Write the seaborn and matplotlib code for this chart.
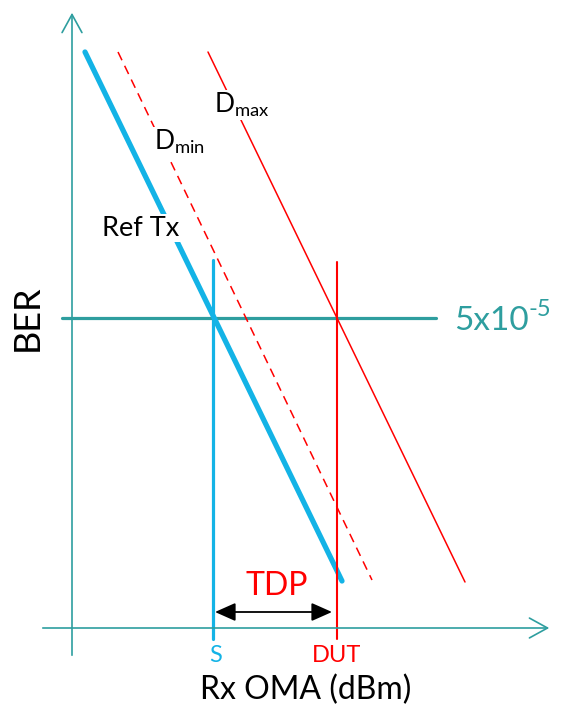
import matplotlib
matplotlib.use('Agg')
import matplotlib.pyplot as plt
import seaborn as sns

# schematic coordinates (Rx OMA to the right, BER downwards)
ref_tx_x = [85, 342]
ref_tx_y = [52, 581]
dmin_x = [118, 372]
dmin_y = [52, 580]
dmax_x = [208, 465]
dmax_y = [52, 582]

ber_level = 318            # 5x10^-5 threshold
s_x = 213                  # Ref Tx sensitivity
dut_x = 337                # DUT sensitivity
marker_top = [260, 262]    # upper end of S / DUT markers
marker_bottom = 639
axis_x = 72
axis_y = 628

teal = '#2E9E9F'
cyan = '#13B3E6'
red = '#FF0000'

sns.set_theme(style='white')
plt.rcParams['font.family'] = ['Lato', 'DejaVu Sans']
plt.rcParams['mathtext.default'] = 'regular'

fig = plt.figure(figsize=(5.63, 7.16), dpi=100)
ax = fig.add_axes([0, 0, 1, 1])
ax.set_xlim(0, 563)
ax.set_ylim(716, 0)
ax.axis('off')


def seg(x, y, **kw):
    # plain segment, no aggregation
    sns.lineplot(x=x, y=y, estimator=None, sort=False, ax=ax, **kw)


# axes with open arrow heads
ax.annotate('', xy=(axis_x, 10), xytext=(axis_x, 658),
            arrowprops=dict(arrowstyle='->,head_length=1.0,head_width=0.55',
                            color=teal, lw=1.2, mutation_scale=13))
ax.annotate('', xy=(552, axis_y), xytext=(40, axis_y),
            arrowprops=dict(arrowstyle='->,head_length=1.0,head_width=0.55',
                            color=teal, lw=1.2, mutation_scale=13))

# BER threshold
seg([62, 436], [ber_level, ber_level], color=teal, lw=2.3)

# curves
seg(ref_tx_x, ref_tx_y, color=cyan, lw=3.8)
seg(dmin_x, dmin_y, color=red, lw=1.1, linestyle=(0, (6, 4)))
seg(dmax_x, dmax_y, color=red, lw=1.1)

# sensitivity markers
seg([s_x, s_x], [marker_top[0], marker_bottom], color=cyan, lw=2.3)
seg([dut_x, dut_x], [marker_top[1], marker_bottom], color=red, lw=1.5)

# TDP arrow
ax.annotate('', xy=(dut_x - 5, 612), xytext=(s_x + 2, 612),
            arrowprops=dict(arrowstyle='<|-|>,head_length=0.9,head_width=0.4',
                            color='black', lw=1.3, mutation_scale=14,
                            shrinkA=0, shrinkB=0))

box = dict(facecolor='white', edgecolor='none', pad=1)
ax.text(102, 228, 'Ref Tx', fontsize=19.5, color='black', va='center', ha='left', bbox=box)
ax.text(154, 142, 'D$_{min}$', fontsize=19, color='black', va='center', ha='left', bbox=box)
ax.text(214, 105, 'D$_{max}$', fontsize=19, color='black', va='center', ha='left', bbox=box)

t = ax.text(454, 321, '5x10', fontsize=24, color=teal, va='center', ha='left')
ax.annotate('-5', xy=(1, 1), xycoords=t, xytext=(0, 5), textcoords='offset points',
            fontsize=17, color=teal, va='top', ha='left')
ax.text(277, 586, 'TDP', fontsize=23, color=red, va='center', ha='center')
ax.text(216, 656, 'S', fontsize=17, color=cyan, va='center', ha='center')
ax.text(dut_x, 656, 'DUT', fontsize=17, color=red, va='center', ha='center')
ax.text(306, 690, 'Rx OMA (dBm)', fontsize=23, color='black', va='center', ha='center')
ax.text(27, 318, 'BER', fontsize=26, color='black', va='center', ha='center', rotation=90)

fig.savefig('out.png', dpi=100)
